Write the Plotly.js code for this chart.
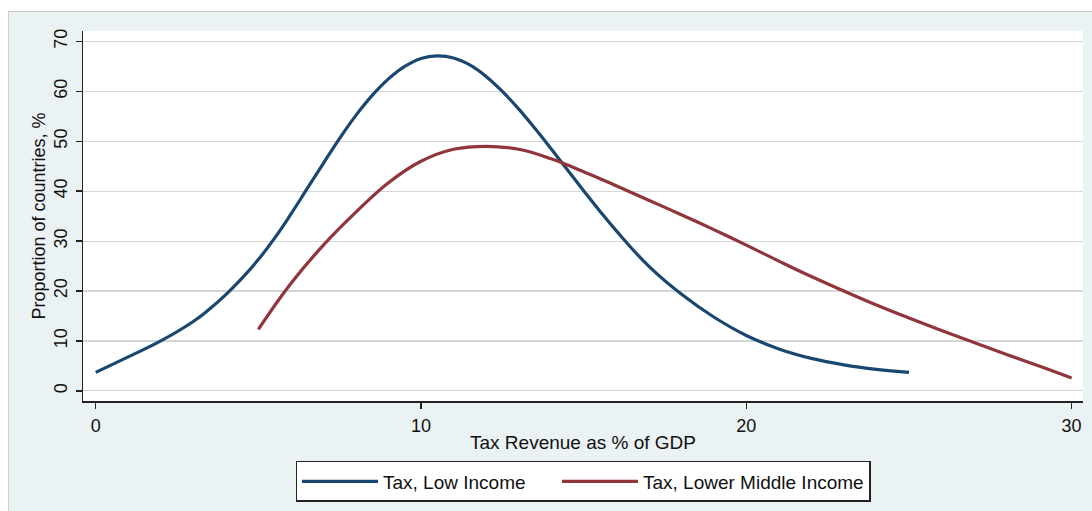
<!DOCTYPE html>
<html>
<head>
<meta charset="utf-8">
<script src="https://cdn.plot.ly/plotly-3.0.1.min.js"></script>
<style>
  html, body { margin: 0; padding: 0; background: #ffffff; width: 1092px; height: 511px; overflow: hidden; }
  #frame { position: absolute; left: 8px; top: 11px; width: 1084px; height: 500px;
           background: #eaf2f3; border-left: 1px solid #c8cccd; border-top: 1px solid #c8cccd; box-sizing: border-box; }
  #chart { position: absolute; left: -1px; top: -1px; width: 1084px; height: 500px; }
</style>
</head>
<body>
<div id="frame"><div id="chart"></div></div>
<script>
// Tax revenue as % of GDP (x) and proportion of countries, % (y)
const lowIncomeX = [0, 1, 2, 3, 3.5, 4, 4.5, 5, 5.5, 6, 6.5, 7, 7.5, 8, 8.5, 9, 9.5, 10, 10.5, 11, 11.5, 12, 12.5, 13, 13.5, 14, 14.5, 15, 15.5, 16, 17, 18, 19, 20, 21, 22, 23, 24, 25];
const lowIncomeY = [3.7, 6.8, 10.0, 13.9, 16.4, 19.3, 22.6, 26.3, 30.6, 35.4, 40.5, 45.6, 50.6, 55.2, 59.2, 62.5, 65.0, 66.6, 67.1, 66.7, 65.3, 63.0, 60.0, 56.5, 52.6, 48.5, 44.3, 40.1, 36.0, 32.1, 25.0, 19.4, 14.8, 11.1, 8.4, 6.5, 5.2, 4.3, 3.7];

const lowerMiddleX = [5, 6, 7, 8, 9, 10, 11, 12, 13, 14, 15, 16, 17, 18, 19, 20, 21, 22, 23, 24, 25, 26, 27, 28, 29, 30];
const lowerMiddleY = [12.3, 21.5, 29.2, 35.8, 41.7, 46.0, 48.4, 49.0, 48.4, 46.5, 43.9, 41.1, 38.2, 35.3, 32.3, 29.2, 26.0, 22.9, 20.0, 17.2, 14.6, 12.1, 9.7, 7.3, 5.0, 2.6];

const seriesNames = ["Tax, Low Income", "Tax, Lower Middle Income"];
const xTicks = [0, 10, 20, 30];
const yTicks = [0, 10, 20, 30, 40, 50, 60, 70];

const FONT = "Liberation Sans, Arial, sans-serif";
const PAD = "\u00a0\u00a0\u00a0\u00a0\u00a0"; // spacing after first legend entry

const traces = [
  { x: lowIncomeX, y: lowIncomeY, name: seriesNames[0] + PAD, type: "scatter", mode: "lines",
    line: { color: "#1a476f", width: 3.2, shape: "spline", smoothing: 1.2 }, hoverinfo: "skip" },
  { x: lowerMiddleX, y: lowerMiddleY, name: seriesNames[1], type: "scatter", mode: "lines",
    line: { color: "#90353b", width: 3.2, shape: "spline", smoothing: 1.2 }, hoverinfo: "skip" }
];

const layout = {
  width: 1084, height: 500,
  paper_bgcolor: "rgba(0,0,0,0)",
  plot_bgcolor: "#ffffff",
  margin: { l: 75, r: 9, t: 20, b: 105 },
  font: { family: FONT, color: "#111111", size: 18 },
  showlegend: true,
  xaxis: {
    range: [-0.39, 30.35], tickvals: xTicks, ticktext: xTicks.map(String),
    showgrid: false, zeroline: false, showline: true, linecolor: "#222222", linewidth: 1.5,
    ticks: "outside", ticklen: 6, tickwidth: 1.5, tickcolor: "#222222",
    tickfont: { size: 18, family: FONT, color: "#111111" },
    ticklabelstandoff: 2,
    title: { text: "Tax Revenue as % of GDP", font: { size: 19, family: FONT, color: "#111111" }, standoff: 0 }
  },
  yaxis: {
    range: [-2.03, 72.1], tickvals: yTicks, ticktext: yTicks.map(String),
    showgrid: true, gridcolor: "#d4d6d6", gridwidth: 1.2, zeroline: false,
    showline: true, linecolor: "#222222", linewidth: 1.5,
    ticks: "outside", ticklen: 6, tickwidth: 1.5, tickcolor: "#222222",
    tickangle: -90,
    tickfont: { size: 18, family: FONT, color: "#111111" },
    ticklabelstandoff: 1,
    title: { text: "Proportion of countries, %", font: { size: 18, family: FONT, color: "#111111" }, standoff: 1 }
  },
  legend: {
    orientation: "h", x: 0.5, xanchor: "center", y: -0.162, yanchor: "top",
    bgcolor: "#ffffff", bordercolor: "#222222", borderwidth: 1.5,
    font: { size: 19, family: FONT, color: "#111111" },
    itemwidth: 76, traceorder: "normal"
  }
};

Plotly.newPlot("chart", traces, layout, { staticPlot: true, displayModeBar: false });
</script>
</body>
</html>
